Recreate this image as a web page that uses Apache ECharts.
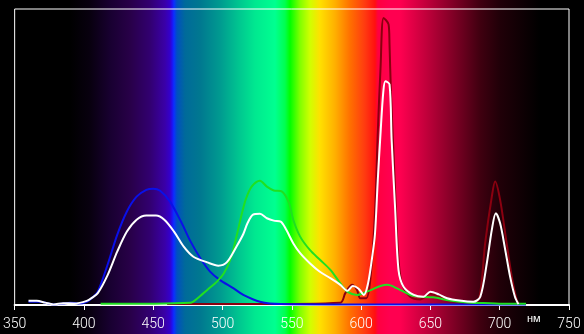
<!DOCTYPE html>
<html>
<head>
<meta charset="utf-8">
<script src="https://cdn.jsdelivr.net/npm/echarts@6/dist/echarts.min.js"></script>
<style>
html,body{margin:0;padding:0;background:#000;}
#chart{width:584px;height:334px;}
</style>
</head>
<body>
<div id="chart"></div>
<script>
// Tick labels (nm)
const xTicks = [350, 400, 450, 500, 550, 600, 650, 700, 750];
const unitLabel = 'нм';

// Blue series
const blueWl  = [360, 368, 378, 385, 390, 396, 402, 406, 410, 417, 424, 431, 438, 445, 450, 455, 462, 470, 477, 484, 491, 498, 508, 515, 527, 542, 580, 620, 680, 719];
const blueVal = [1.1, 1.1, 0.2, 0.5, 0.8, 0.5, 1.1, 2.5, 4.5, 13.5, 23.7, 31.6, 36.6, 38.9, 39.3, 38.6, 35, 28.2, 21.4, 15.8, 11.3, 8.5, 5.6, 3.4, 1.1, 0.3, 0.2, 0.2, 0.2, 0.2];

// Green series
const greenWl  = [412, 477, 482, 489, 496, 501, 506, 510, 514, 517, 521, 527, 532, 537, 543, 548, 551, 556, 563, 570.5, 578, 585, 590, 597, 604, 614, 619, 626, 638, 652, 664, 679, 693, 705, 719];
const greenVal = [0.4, 0.8, 2.3, 5.1, 7.9, 10.7, 15.8, 23, 31, 36, 40, 42, 40, 38.7, 38.3, 34.4, 28.8, 23.1, 18.6, 15.2, 11.8, 7.3, 4.5, 3.4, 4.5, 6.4, 6.8, 5.6, 3.0, 2.6, 1.5, 0.8, 0.6, 0.4, 0.4];

// Dark red series
const redWl  = [460, 520, 585, 588.6, 593.4, 597, 599.4, 603.7, 606.6, 610, 612, 614, 616.2, 619.8, 620.5, 621.5, 623.5, 625.5, 627, 629.4, 635.4, 642.6, 649.8, 657, 664, 678.6, 685, 689.5, 694.3, 696.7, 700.3, 705, 708.7, 712.3, 714];
const redVal = [0.3, 0.3, 0.8, 4, 6.8, 5.1, 2.3, 2.3, 8.5, 31, 58, 80, 97, 94.8, 88, 72, 50, 28, 15.2, 7.3, 2.8, 1.9, 3.7, 2.6, 1.5, 0.8, 2, 20.9, 36.6, 41.7, 35.5, 20.9, 9.6, 1.7, 0.3];

// White series
const whiteWl  = [360, 366, 372, 378, 385, 393, 402, 406, 410, 417, 424, 431, 438, 445, 452, 458, 465, 472, 479, 489, 497, 503, 510, 515, 518, 522, 527, 532, 537, 542, 546, 551, 556, 563, 570, 578, 585, 590, 594, 598, 602, 605, 608, 610, 612, 614, 616, 617.5, 620.5, 622, 624.6, 627, 630.6, 638, 645, 650, 656, 662, 671, 681, 686, 690.7, 694.3, 697.2, 700.3, 704, 707.5, 711, 713.5];
const whiteVal = [1.4, 1.4, 0.8, 0.2, 0.6, 0.5, 1.4, 2.5, 4, 10, 18, 24.8, 28.8, 30.2, 30.2, 28.8, 24.8, 19.7, 16.3, 14.4, 13.3, 14.4, 19.7, 24, 27.6, 30.5, 30.8, 29.3, 28.5, 28.2, 25.4, 20.9, 17.5, 14.1, 11.3, 9, 6.8, 4.8, 6.4, 5.6, 3.4, 7.3, 16.3, 24, 42, 58, 72, 75.6, 74.5, 56, 32, 11.8, 6.2, 3.4, 2.8, 4.5, 3.6, 2.3, 1.5, 1.1, 2.8, 14.1, 25.4, 31, 27.6, 18.6, 9.6, 2.8, 0.3];

function pairs(wl, val) { return wl.map((w, i) => [w, val[i]]); }

// Spectrum background gradient stops: [x pixel, colour]
const W = 584;
const specStops = [
  [0, '#000000'], [70, '#000000'], [90, '#08000f'], [110, '#180030'], [130, '#280048'],
  [150, '#320070'], [165, '#3a00a8'], [170, '#3400cc'], [172, '#2010f0'], [174, '#0a30ff'],
  [177, '#0050c0'], [185, '#006a9a'], [200, '#007890'], [220, '#009a90'], [240, '#00c890'],
  [255, '#00e890'], [275, '#00ff90'], [285, '#00ff50'], [290, '#00ff00'], [300, '#80ff00'],
  [310, '#d0ff00'], [320, '#ffe000'], [335, '#ffb000'], [350, '#ff7000'], [365, '#ff3a10'],
  [375, '#ff1010'], [378, '#ff0040'], [390, '#ff0050'], [400, '#ff0050'], [420, '#d00040'],
  [440, '#a00030'], [460, '#700020'], [480, '#400010'], [500, '#200008'], [520, '#100004'],
  [540, '#000000'], [584, '#000000']
];

const chart = echarts.init(document.getElementById('chart'), null, {renderer: 'canvas'});
const lineBase = {type: 'line', showSymbol: false, smooth: 0.3, silent: true, animation: false};

chart.setOption({
  backgroundColor: '#000',
  animation: false,
  graphic: [
    {
      type: 'rect', z: -10, silent: true,
      shape: {x: 0, y: 0, width: W, height: 334},
      style: {
        fill: new echarts.graphic.LinearGradient(0, 0, 1, 0,
          specStops.map(s => ({offset: s[0] / W, color: s[1]})))
      }
    },
    {
      type: 'text', left: 527, top: 313, silent: true,
      style: {text: unitLabel, fill: '#fff', font: '11px "Liberation Sans", sans-serif'}
    }
  ],
  grid: {
    left: 14, right: 15, top: 9, bottom: 29,
    show: true, borderColor: '#fff', borderWidth: 1, backgroundColor: 'transparent'
  },
  xAxis: {
    type: 'value', min: xTicks[0], max: xTicks[xTicks.length - 1], interval: 50,
    axisLine: {show: true, lineStyle: {color: '#fff', width: 2}},
    axisTick: {show: true, length: 5, lineStyle: {color: '#fff', width: 1}},
    splitLine: {show: false},
    axisLabel: {
      color: '#fff', fontSize: 14, margin: 12, fontWeight: 300,
      fontFamily: 'Roboto, "Liberation Sans", sans-serif',
      showMinLabel: true, showMaxLabel: true
    }
  },
  yAxis: {type: 'value', min: 0, max: 100, show: false},
  series: [
    Object.assign({}, lineBase, {name: 'red', data: pairs(redWl, redVal), lineStyle: {color: '#8a0010', width: 2}, z: 2}),
    Object.assign({}, lineBase, {name: 'blue', data: pairs(blueWl, blueVal), lineStyle: {color: '#0a10e8', width: 2}, z: 3}),
    Object.assign({}, lineBase, {name: 'green', data: pairs(greenWl, greenVal), lineStyle: {color: '#20e020', width: 2}, z: 4}),
    Object.assign({}, lineBase, {name: 'white', data: pairs(whiteWl, whiteVal), lineStyle: {color: '#ffffff', width: 2}, z: 5})
  ]
});
</script>
</body>
</html>
